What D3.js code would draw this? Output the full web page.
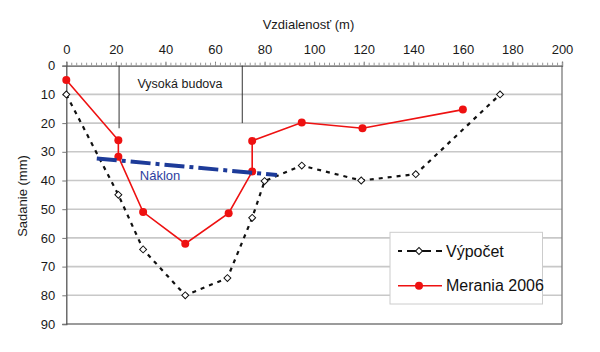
<!DOCTYPE html>
<html><head><meta charset="utf-8">
<script src="https://cdn.jsdelivr.net/npm/d3@7"></script>
<style>body{margin:0;background:#fff}svg{display:block;font-family:"Liberation Sans",Arial,sans-serif}</style>
</head><body><svg id="c" width="600" height="352"></svg>
<script>
const xTicks = [0,20,40,60,80,100,120,140,160,180,200];
const yTicks = [0,10,20,30,40,50,60,70,80,90];
const vypocetX = [0,21,31,48,65,75,80,95,119,141,175];
const vypocetY = [10,45,64,80,74,53,40.2,34.8,40,37.8,10];
const meraniaX = [0,21,21,31,48,65.5,75,75,95,119.5,160];
const meraniaY = [5,26,31.7,51,62,51.4,36.9,26.2,19.8,21.8,15.3];
const naklonX = [12.3,85];
const naklonY = [32.3,38.1];
const budovaX = [21.3,71];
const budovaY = [21.8,20];
const seriesNames = ["Výpočet","Merania 2006"];

const svg = d3.select("#c");
const x = d3.scaleLinear().domain([0,200]).range([66.3,562]);
const y = d3.scaleLinear().domain([0,90]).range([65.7,324]);

// gridlines
svg.append("g").selectAll("line").data(yTicks.slice(1,-1)).join("line")
  .attr("x1",x(0)).attr("x2",x(200)).attr("y1",d=>y(d)).attr("y2",d=>y(d))
  .attr("stroke","#c8c8c8").attr("stroke-width",1.6);

// border right/bottom
svg.append("line").attr("x1",x(200)).attr("x2",x(200)).attr("y1",y(0)).attr("y2",y(90)).attr("stroke","#7a7a7a").attr("stroke-width",1.3);
svg.append("line").attr("x1",x(0)).attr("x2",x(200)).attr("y1",y(90)).attr("y2",y(90)).attr("stroke","#7a7a7a").attr("stroke-width",1.3);

// top axis
const xa = svg.append("g").attr("transform",`translate(0,${y(0)})`)
  .call(d3.axisTop(x).tickValues(xTicks).tickSize(4).tickPadding(8).tickFormat(d3.format("d")));
xa.select(".domain").attr("stroke","#555").attr("stroke-width",1.3);
xa.selectAll(".tick line").attr("stroke","#777");
xa.selectAll("text").attr("font-size",13).attr("fill","#1a1a1a").attr("font-family","Liberation Sans, Arial, sans-serif");
svg.append("g").attr("transform",`translate(0,${y(0)})`)
  .call(d3.axisTop(x).ticks(100).tickSize(3).tickFormat(""))
  .call(g=>g.select(".domain").remove())
  .selectAll(".tick line").attr("stroke","#999");

// left axis
const ya = svg.append("g").attr("transform",`translate(${x(0)},0)`)
  .call(d3.axisLeft(y).tickValues(yTicks).tickSize(4).tickPadding(7));
ya.select(".domain").attr("stroke","#555").attr("stroke-width",1.3);
ya.selectAll(".tick line").attr("stroke","#777");
ya.selectAll("text").attr("font-size",13).attr("fill","#1a1a1a").attr("font-family","Liberation Sans, Arial, sans-serif");

// titles
svg.append("text").attr("x",308.5).attr("y",29).attr("text-anchor","middle").attr("font-size",13).attr("fill","#1a1a1a").text("Vzdialenosť (m)");
svg.append("text").attr("transform","translate(27,196) rotate(-90)").attr("text-anchor","middle").attr("font-size",13).attr("fill","#1a1a1a").text("Sadanie (mm)");

// building lines
svg.append("g").selectAll("line").data(budovaX).join("line")
  .attr("x1",d=>x(d)).attr("x2",d=>x(d)).attr("y1",y(0)).attr("y2",(d,i)=>y(budovaY[i]))
  .attr("stroke","#333").attr("stroke-width",1);
svg.append("text").attr("x",180).attr("y",88).attr("text-anchor","middle").attr("font-size",12.5).attr("fill","#1a1a1a").text("Vysoká budova");

const line = d3.line().x(d=>x(d[0])).y(d=>y(d[1]));

// Výpočet
const vData = vypocetX.map((v,i)=>[v,vypocetY[i]]);
svg.append("path").datum(vData).attr("d",line).attr("fill","none").attr("stroke","#111")
  .attr("stroke-width",2.2).attr("stroke-dasharray","4,5");
const diamond = d3.symbol().type(d3.symbolSquare).size(24);
svg.append("g").selectAll("path").data(vData).join("path")
  .attr("transform",d=>`translate(${x(d[0])},${y(d[1])}) rotate(45)`).attr("d",diamond)
  .attr("fill","#fff").attr("stroke","#111").attr("stroke-width",1);

// Merania
const mData = meraniaX.map((v,i)=>[v,meraniaY[i]]);
svg.append("path").datum(mData).attr("d",line).attr("fill","none").attr("stroke","#ee1111").attr("stroke-width",1.6);
svg.append("g").selectAll("circle").data(mData).join("circle")
  .attr("cx",d=>x(d[0])).attr("cy",d=>y(d[1])).attr("r",4).attr("fill","#ee1111");

// Náklon
const nData = naklonX.map((v,i)=>[v,naklonY[i]]);
svg.append("path").datum(nData).attr("d",line).attr("fill","none").attr("stroke","#1d3b99")
  .attr("stroke-width",4).attr("stroke-dasharray","20,5,4,5");
svg.append("text").attr("x",160).attr("y",180).attr("text-anchor","middle").attr("font-size",13).attr("fill","#2d40a0").text("Náklon");

// legend
const lg = svg.append("g");
lg.append("rect").attr("x",390).attr("y",232.3).attr("width",152.5).attr("height",71.7).attr("fill","#fff").attr("stroke","#cccccc").attr("stroke-width",1);
lg.append("line").attr("x1",398).attr("x2",442).attr("y1",251).attr("y2",251).attr("stroke","#111").attr("stroke-width",2.2).attr("stroke-dasharray","4,5,24,5,6");
lg.append("path").attr("transform","translate(419,251) rotate(45)").attr("d",diamond).attr("fill","#fff").attr("stroke","#111");
lg.append("text").attr("x",446).attr("y",256.5).attr("font-size",16).attr("fill","#111").text(seriesNames[0]);
lg.append("line").attr("x1",398).attr("x2",442).attr("y1",285.7).attr("y2",285.7).attr("stroke","#ee1111").attr("stroke-width",1.6);
lg.append("circle").attr("cx",419).attr("cy",285.7).attr("r",4).attr("fill","#ee1111");
lg.append("text").attr("x",446).attr("y",291.3).attr("font-size",16).attr("fill","#111").text(seriesNames[1]);
</script></body></html>
